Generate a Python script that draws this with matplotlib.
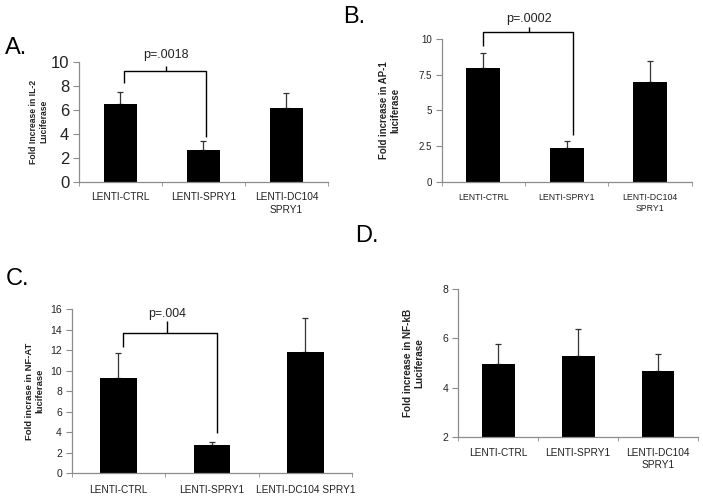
import matplotlib
matplotlib.use("Agg")
import matplotlib.pyplot as plt
from matplotlib.ticker import FixedLocator

plt.rcParams['font.family'] = ['Liberation Sans', 'DejaVu Sans']

W, H = 703, 498

# ---------------- data ----------------
cats_ab = ["LENTI-CTRL", "LENTI-SPRY1", "LENTI-DC104\nSPRY1"]
cats_c = ["LENTI-CTRL", "LENTI-SPRY1", "LENTI-DC104 SPRY1"]

il2_vals = [6.45, 2.6, 6.1]
il2_err = [1.0, 0.75, 1.25]

ap1_vals = [8.0, 2.34, 7.0]
ap1_err = [1.05, 0.55, 1.45]

nfat_vals = [9.25, 2.8, 11.85]
nfat_err = [2.5, 0.28, 3.25]

nfkb_vals = [4.95, 5.28, 4.67]
nfkb_err = [0.82, 1.1, 0.7]

# bracket heights: (horizontal, left leg end, right leg end, centre tick top)
br_a = (9.2, 8.2, 3.75, 9.6)
br_b = (10.5, 9.5, 3.3, 10.85)
br_c = (13.7, 12.3, 3.95, 14.85)

AX_COL = "#8c8c8c"
TXT_COL = "#222222"


def rect(l, r, t, b):
    return [l / W, 1 - b / H, (r - l) / W, (b - t) / H]


def panel(fig, box, cats, vals, errs, ylim, yticks, yticklabels, ylabel,
          tick_fs, cat_fs, ylab_fs, ylab_x, bar_w=0.4, cat_pad=7):
    ax = fig.add_axes(rect(*box))
    x = list(range(len(cats)))
    ax.bar(x, vals, width=bar_w, color="black", zorder=2)
    ax.errorbar(x, vals, yerr=[[0] * len(errs), errs], fmt="none",
                ecolor="#333333", elinewidth=0.9, capsize=2.5, capthick=0.9,
                zorder=1)
    ax.set_xlim(-0.5, len(cats) - 0.5)
    ax.set_ylim(*ylim)
    ax.set_yticks(yticks)
    ax.set_yticklabels(yticklabels)
    ax.set_xticks(x)
    ax.set_xticklabels(cats, fontsize=cat_fs, color=TXT_COL, linespacing=1.3)
    ax.xaxis.set_minor_locator(FixedLocator([i - 0.5 for i in range(len(cats) + 1)]))
    ax.tick_params(axis="x", which="major", length=0, pad=cat_pad)
    ax.tick_params(axis="x", which="minor", length=3, color=AX_COL, direction="out")
    ax.tick_params(axis="y", length=4, color=AX_COL, labelsize=tick_fs,
                   labelcolor=TXT_COL, pad=3)
    for s in ("top", "right"):
        ax.spines[s].set_visible(False)
    for s in ("left", "bottom"):
        ax.spines[s].set_color(AX_COL)
        ax.spines[s].set_linewidth(0.9)
    ax.set_ylabel(ylabel, fontsize=ylab_fs, fontweight="bold", color=TXT_COL,
                  linespacing=1.1)
    ax.yaxis.set_label_coords((ylab_x - box[0]) / (box[1] - box[0]), 0.5)
    return ax


def bracket(ax, xl, xr, xc, br, text, fs, text_y):
    yh, yl, yr, yc = br
    kw = dict(color="black", lw=1.0, clip_on=False, solid_capstyle="butt")
    ax.plot([xl, xl, xr, xr], [yl, yh, yh, yr], **kw)
    ax.plot([xc, xc], [yh, yc], **kw)
    ax.text(xc, text_y, text, ha="center", va="center", fontsize=fs,
            color=TXT_COL, clip_on=False)


fig = plt.figure(figsize=(W / 100, H / 100), dpi=100)

# A
axA = panel(fig, (79, 328, 61.7, 181.7), cats_ab, il2_vals, il2_err, (0, 10),
            [0, 2, 4, 6, 8, 10], ["0", "2", "4", "6", "8", "10"],
            "Fold Increase in IL-2\nLuciferase", 12, 7.3, 6.2, 48, bar_w=0.39,
            cat_pad=7.5)
bracket(axA, 0.04, 1.03, 0.55, br_a, "p=.0018", 9, 10.55)

# B
axB = panel(fig, (441.7, 691.7, 39.3, 181.7), cats_ab, ap1_vals, ap1_err, (0, 10),
            [0, 2.5, 5, 7.5, 10], ["0", "2.5", "5", "7.5", "10"],
            "Fold increase in AP-1\nluciferase", 7.0, 6.3, 6.9, 400, bar_w=0.41,
            cat_pad=8)
bracket(axB, 0.0, 1.07, 0.55, br_b, "p=.0002", 9, 11.4)

# C
axC = panel(fig, (71.7, 352, 309, 473.3), cats_c, nfat_vals, nfat_err, (0, 16),
            list(range(0, 17, 2)), [str(v) for v in range(0, 17, 2)],
            "Fold incrase in NF-AT\nluciferase", 7.5, 7.3, 6.8, 44, bar_w=0.39,
            cat_pad=8.5)
bracket(axC, 0.05, 1.05, 0.52, br_c, "p=.004", 8.8, 15.5)

# D
axD = panel(fig, (458.3, 698, 289, 437.3), cats_ab, nfkb_vals, nfkb_err, (2, 8),
            [2, 4, 6, 8], ["2", "4", "6", "8"],
            "Fold increase in NF-kB\nLuciferase", 7.5, 7.3, 7.2, 424, bar_w=0.41,
            cat_pad=7.5)

# panel letters
for lbl, px, py in [("A.", 5, 54), ("B.", 343, 23), ("C.", 6, 285), ("D.", 355, 242)]:
    fig.text(px / W, 1 - py / H, lbl, fontsize=17, ha="left", va="baseline",
             color="black")

fig.savefig("out.png", dpi=100)
